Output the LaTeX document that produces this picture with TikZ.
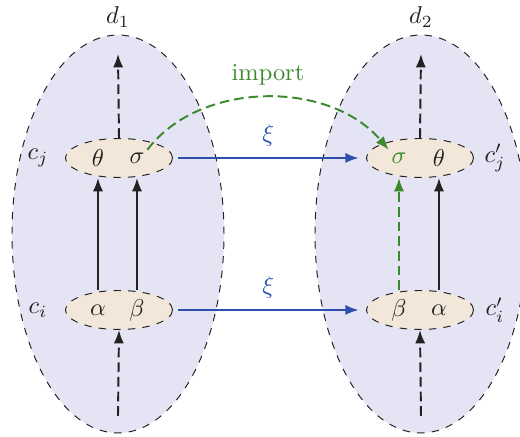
\documentclass[tikz,border=0pt]{standalone}
\usetikzlibrary{arrows.meta,shapes.geometric}
\definecolor{lav}{HTML}{E4E4F4}
\definecolor{beig}{HTML}{F2E7D9}
\definecolor{myblue}{HTML}{2F4FAF}
\definecolor{mygreen}{HTML}{3A8A2C}
\definecolor{ink}{HTML}{222222}
\begin{document}
\begin{tikzpicture}[x=0.41pt,y=-0.41pt,
  bigell/.style={ellipse,draw=ink,dashed,fill=lav,minimum width=212*0.41pt,minimum height=398*0.41pt,inner sep=0pt},
  smallell/.style={ellipse,draw=ink,dashed,fill=beig,minimum width=107*0.41pt,minimum height=39*0.41pt,inner sep=0pt},
  sym/.style={inner sep=1pt,text=ink},
  lbl/.style={inner sep=1pt,text=ink},
  arr/.style={-{Latex[length=5.5pt,width=4.2pt]},line width=0.8pt,draw=ink},
  darr/.style={arr,dash pattern=on 4pt off 2pt},
  blarr/.style={-{Latex[length=5.5pt,width=4.2pt]},line width=0.8pt,draw=myblue},
  grarr/.style={-{Latex[length=5.5pt,width=4.2pt]},line width=0.8pt,draw=mygreen,dash pattern=on 4pt off 2pt}]
\useasboundingbox (0,0) rectangle (520,437);
% big ellipses
\node[bigell] (D1) at (118,234) {};
\node[bigell] (D2) at (421,234) {};
\node[lbl] (d1) at (118,17) {$d_1$};
\node[lbl] (d2) at (421,17) {$d_2$};
% small ellipses
\node[smallell] (Cj) at (119,158) {};
\node[smallell] (Ci) at (119,310) {};
\node[smallell] (Cjp) at (420,158) {};
\node[smallell] (Cip) at (420,310) {};
% symbols
\node[sym] (th1) at (98,158) {$\theta$};
\node[sym] (s1) at (137,158) {$\sigma$};
\node[sym] (a1) at (98,310) {$\alpha$};
\node[sym] (b1) at (137,310) {$\beta$};
\node[sym,text=mygreen] (s2) at (399,158) {$\sigma$};
\node[sym] (th2) at (439,158) {$\theta$};
\node[sym] (b2) at (399,310) {$\beta$};
\node[sym] (a2) at (439,310) {$\alpha$};
% side labels
\node[lbl] (cj) at (38,158) {$c_j$};
\node[lbl] (ci) at (38,310) {$c_i$};
\node[lbl] (cjp) at (495,158) {$c'_j$};
\node[lbl] (cip) at (495,310) {$c'_i$};
% coordinates for free ends
\coordinate (t1) at (118,54);
\coordinate (t2) at (421,54);
\coordinate (u1) at (118,416);
\coordinate (u2) at (421,416);
% vertical arrows left
\draw[arr] (a1 |- Ci.north) -- (th1 |- Cj.south);
\draw[arr] (b1 |- Ci.north) -- (s1 |- Cj.south);
\draw[darr] (Cj.north) -- (t1);
\draw[darr] (u1) -- (Ci.south);
% right
\draw[arr] (a2 |- Cip.north) -- (th2 |- Cjp.south);
\draw[grarr] (b2 |- Cip.north) -- (s2 |- Cjp.south);
\draw[darr] (Cjp.north) -- (t2);
\draw[darr] (u2) -- (Cip.south);
% horizontal
\draw[blarr] ([xshift=2pt]Cj.east) -- node[above=3.5pt,text=myblue,inner sep=1pt]{$\xi$} ([xshift=-3pt]Cjp.west);
\draw[blarr] ([xshift=2pt]Ci.east) -- node[above=3.5pt,text=myblue,inner sep=1pt]{$\xi$} ([xshift=-3pt]Cip.west);
% import
\draw[grarr] (s1.north east) .. controls (200,80) and (330,80) .. (s2.north west);
\node[text=mygreen,inner sep=1pt] (imp) at (268,75) {import};
\end{tikzpicture}
\end{document}
